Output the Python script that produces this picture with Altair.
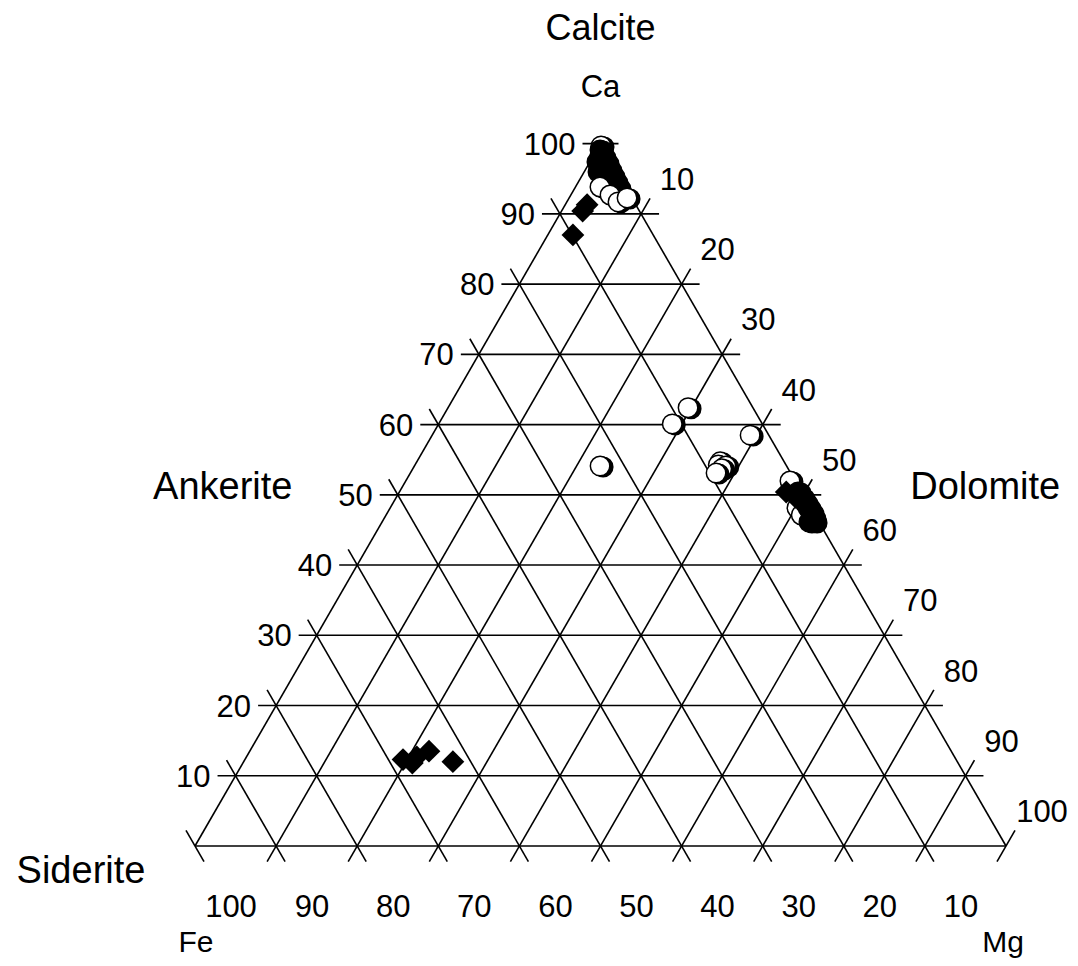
import math
import altair as alt
import pandas as pd

# ---------------- data ----------------
levels = [10, 20, 30, 40, 50, 60, 70, 80, 90, 100]
tick_labels = ["10", "20", "30", "40", "50", "60", "70", "80", "90", "100"]

# circles (drawn in this order): Ca, Mg, Fe (mol %) and symbol kind
circle_ca = [99.67, 99.10, 98.39, 98.11, 97.25, 97.39, 96.26, 95.97, 95.40, 95.40, 94.55, 94.40, 93.69,
             93.83, 92.69, 91.70, 92.27,
             62.4, 60.1, 58.5, 54.1, 54.7, 54.25, 54.1, 53.7, 53.1,
             51.97, 48.13, 47.13,
             50.41, 49.55, 48.84, 48.13, 47.42, 46.70, 46.13, 46.13]
circle_mg = [0.23, 0.39, 0.75, 1.25, 2.06, 0.87, 2.92, 1.71, 3.72, 2.61, 4.51, 3.72, 5.31,
             3.02, 4.83, 6.31, 7.14,
             29.6, 28.8, 39.2, 22.9, 37.4, 37.4, 38.4, 38.1, 37.7,
             47.38, 50.16, 51.19,
             49.15, 50.07, 50.80, 51.53, 52.25, 52.85, 53.27, 52.64]
circle_fe = [0.10, 0.51, 0.86, 0.64, 0.69, 1.74, 0.82, 2.32, 0.88, 1.99, 0.94, 1.88, 1.00,
             3.15, 2.48, 1.99, 0.59,
             8.0, 11.1, 2.3, 23.0, 7.9, 8.35, 7.5, 8.2, 9.2,
             0.65, 1.71, 1.68,
             0.44, 0.38, 0.36, 0.34, 0.33, 0.45, 0.60, 1.23]
circle_kind = ["open"] + ["filled"] * 12 + ["open"] * 4 + ["open"] * 9 + ["open"] * 3 + ["filled"] * 8

# filled diamonds: Ca, Mg, Fe (mol %)
diamond_ca = [91.3, 90.4, 87.0, 50.4, 49.6, 12.3, 11.8, 12.7, 13.5, 12.0]
diamond_mg = [2.7, 2.6, 3.1, 47.7, 49.3, 19.5, 20.9, 21.0, 22.1, 25.8]
diamond_fe = [6.0, 7.0, 9.9, 1.9, 1.1, 68.2, 67.3, 66.3, 64.4, 62.2]

# ---------------- geometry helpers ----------------
S3 = math.sqrt(3) / 2
PX_PER_UNIT = 8.11
EXT = 18 / PX_PER_UNIT  # grid line overhang beyond the triangle

W, H = 1062, 950
X0 = -(195 - 8) / PX_PER_UNIT
X1 = X0 + W / PX_PER_UNIT
Y1 = (846 - 8) / PX_PER_UNIT
Y0 = Y1 - H / PX_PER_UNIT

xs = alt.Scale(domain=[X0, X1], nice=False, zero=False)
ys = alt.Scale(domain=[Y0, Y1], nice=False, zero=False)


def tern(ca, mg, fe):
    t = ca + mg + fe
    return (mg + ca / 2) / t * 100, ca * S3 / t * 100


# grid segments
rows = []
for comp in ["Ca", "Mg", "Fe"]:
    for k in [0] + levels:
        if comp == "Ca":
            a, b, d = (k, 0, 100 - k), (k, 100 - k, 0), (1.0, 0.0)
        elif comp == "Mg":
            a, b, d = (0, k, 100 - k), (100 - k, k, 0), (0.5, S3)
        else:
            a, b, d = (100 - k, 0, k), (0, 100 - k, k), (0.5, -S3)
        xa, ya = tern(*a)
        xb, yb = tern(*b)
        e = 0 if k == 0 else EXT
        rows.append(dict(x=xa - e * d[0], y=ya - e * d[1],
                         x2=xb + e * d[0], y2=yb + e * d[1]))
grid = pd.DataFrame(rows)

ca_lab = pd.DataFrame([dict(t=t, x=tern(k, 0, 100 - k)[0], y=tern(k, 0, 100 - k)[1])
                       for k, t in zip(levels, tick_labels)])
mg_lab = pd.DataFrame([dict(t=t, x=tern(100 - k, k, 0)[0], y=tern(100 - k, k, 0)[1])
                       for k, t in zip(levels, tick_labels)])
fe_lab = pd.DataFrame([dict(t=t, x=tern(0, 100 - k, k)[0], y=tern(0, 100 - k, k)[1])
                       for k, t in zip(levels, tick_labels)])

circles = pd.DataFrame(dict(Ca=circle_ca, Mg=circle_mg, Fe=circle_fe, kind=circle_kind))
diamonds = pd.DataFrame(dict(Ca=diamond_ca, Mg=diamond_mg, Fe=diamond_fe))

FONT = "Liberation Sans"

grid_layer = alt.Chart(grid).mark_rule(color="black", strokeWidth=1.6).encode(
    x=alt.X("x:Q", scale=xs, axis=None), y=alt.Y("y:Q", scale=ys, axis=None),
    x2="x2:Q", y2="y2:Q")


def tick_text(df, align, dx, dy):
    return alt.Chart(df).mark_text(font=FONT, fontSize=31, align=align,
                                   baseline="alphabetic", dx=dx, dy=dy, color="black").encode(
        x=alt.X("x:Q", scale=xs, axis=None), y=alt.Y("y:Q", scale=ys, axis=None), text="t:N")


ca_text = tick_text(ca_lab, "right", -25, 11)
mg_text = tick_text(mg_lab, "center", 36, -24)
fe_text = tick_text(fe_lab, "center", 36, 71)


def label(text, comp, size, dx, dy):
    x, y = tern(*comp)
    df = pd.DataFrame([dict(t=text, x=x, y=y)])
    return alt.Chart(df).mark_text(font=FONT, fontSize=size, align="center",
                                   baseline="alphabetic", dx=dx, dy=dy, color="black").encode(
        x=alt.X("x:Q", scale=xs, axis=None), y=alt.Y("y:Q", scale=ys, axis=None), text="t:N")


titles = [
    label("Calcite", (100, 0, 0), 36, 0, -104),
    label("Ca", (100, 0, 0), 31, 0, -47),
    label("Ankerite", (50, 0, 50), 38, -175, 4),
    label("Dolomite", (50, 50, 0), 38, 182, 4),
    label("Siderite", (0, 0, 100), 38, -114, 37),
    label("Fe", (0, 0, 100), 30, 1, 106),
    label("Mg", (0, 100, 0), 30, -3, 106),
]

SH_X = 3 / PX_PER_UNIT
SH_Y = 1 / PX_PER_UNIT

circle_layer = alt.Chart(circles).transform_window(
    idx="row_number()"
).transform_calculate(
    part="['shadow', 'face']"
).transform_flatten(["part"]).transform_calculate(
    seq="datum.idx * 2 + (datum.part == 'face' ? 1 : 0)",
    X=f"(datum.Mg + datum.Ca / 2) / (datum.Ca + datum.Mg + datum.Fe) * 100 + (datum.part == 'shadow' ? {SH_X} : 0)",
    Y=f"datum.Ca * {S3} / (datum.Ca + datum.Mg + datum.Fe) * 100 - (datum.part == 'shadow' ? {SH_Y} : 0)",
).mark_point(shape="circle", filled=True, size=380, stroke="black", strokeWidth=1.5, opacity=1).encode(
    x=alt.X("X:Q", scale=xs, axis=None),
    y=alt.Y("Y:Q", scale=ys, axis=None),
    fill=alt.condition("datum.part == 'face' && datum.kind == 'open'",
                       alt.value("white"), alt.value("black")),
    order=alt.Order("seq:Q"),
)

diamond_layer = alt.Chart(diamonds).transform_calculate(
    X="(datum.Mg + datum.Ca / 2) / (datum.Ca + datum.Mg + datum.Fe) * 100",
    Y=f"datum.Ca * {S3} / (datum.Ca + datum.Mg + datum.Fe) * 100",
).mark_point(shape="diamond", filled=True, size=520, color="black", opacity=1).encode(
    x=alt.X("X:Q", scale=xs, axis=None),
    y=alt.Y("Y:Q", scale=ys, axis=None),
)

chart = alt.layer(grid_layer, ca_text, mg_text, fe_text, *titles, circle_layer, diamond_layer).properties(
    width=W, height=H, autosize=alt.AutoSizeParams(type="none"), padding=0,
    background="white",
).configure_view(stroke=None)

chart.save("out.html", embed_options={"renderer": "svg", "actions": False})
